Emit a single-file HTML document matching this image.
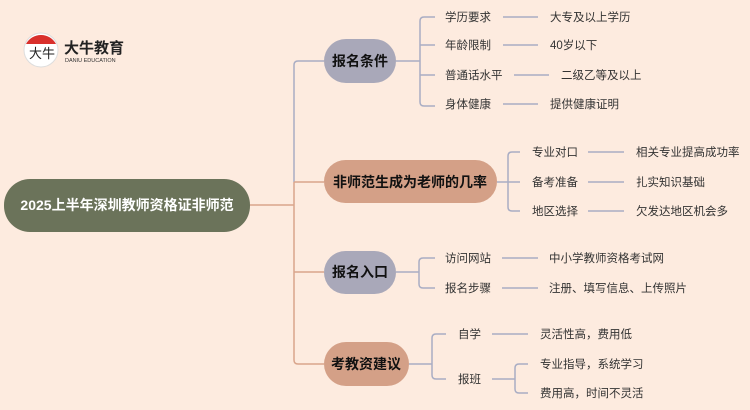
<!DOCTYPE html>
<html><head><meta charset="utf-8"><style>
html,body{margin:0;padding:0;background:#fdebdf;}
svg{display:block;}
text{font-family:"Liberation Sans","Noto Sans CJK SC",sans-serif;}
</style></head><body>
<svg width="750" height="410" viewBox="0 0 750 410" xmlns="http://www.w3.org/2000/svg">
<rect width="750" height="410" fill="#fdebdf"/>
<!-- logo -->
<circle cx="41" cy="50" r="17" fill="#fff" stroke="#ddd"/>
<path d="M26 44 A17 17 0 0 1 56 44 Z" fill="#d9302c"/>
<text x="29" y="58" font-size="13" fill="#222" font-family="Noto Serif CJK SC,serif">大牛</text>
<text x="64" y="53" font-size="15" font-weight="bold" fill="#222">大牛教育</text>
<text x="65" y="62" font-size="5.5" fill="#333">DANIU EDUCATION</text>
<!-- trunk -->
<g fill="none" stroke-width="1.5">
<path d="M250 205 H294" stroke="#d9a58c"/>
<path d="M324 61 H298 Q294 61 294 65 V182" stroke="#a9adc4"/>
<path d="M294 182 H324 M294 182 V360 Q294 364 298 364 H324 M294 272 H324" stroke="#d9a58c"/>
</g>
<g fill="none" stroke="#a9adc4" stroke-width="1.5">
<path d="M396 61 H420 M435 17 H424 Q420 17 420 21 V102 Q420 106 424 106 H435 M420 45 H435 M420 75 H435"/>
<path d="M503 17 H538 M503 45 H538 M514 75 H549 M503 104 H538"/>
<path d="M497 182 H508 M520 152 H512 Q508 152 508 156 V207 Q508 211 512 211 H520 M508 182 H520"/>
<path d="M588 152 H624 M588 182 H624 M588 211 H624"/>
<path d="M396 272 H419 M435 258 H423 Q419 258 419 262 V284 Q419 288 423 288 H435"/>
<path d="M502 258 H538 M502 288 H538"/>
<path d="M409 364 H432 M446 334 H436 Q432 334 432 338 V375 Q432 379 436 379 H446"/>
<path d="M492 334 H528 M492 379 H515 M528 364 H519 Q515 364 515 368 V389 Q515 393 519 393 H528"/>
</g>
<!-- root -->
<rect x="4" y="179" width="246" height="53" rx="26" fill="#6b735a"/>
<text x="127" y="210" font-size="14" font-weight="bold" fill="#fff" text-anchor="middle">2025上半年深圳教师资格证非师范</text>
<!-- branches -->
<rect x="324" y="39" width="72" height="44" rx="22" fill="#a9a8b9"/>
<text x="360" y="66" font-size="14" font-weight="bold" fill="#111" text-anchor="middle">报名条件</text>
<rect x="324" y="160" width="173" height="43" rx="21.5" fill="#d4a087"/>
<text x="410" y="187" font-size="14" font-weight="bold" fill="#111" text-anchor="middle">非师范生成为老师的几率</text>
<rect x="324" y="251" width="72" height="43" rx="21.5" fill="#a9a8b9"/>
<text x="360" y="277" font-size="14" font-weight="bold" fill="#111" text-anchor="middle">报名入口</text>
<rect x="324" y="342" width="85" height="44" rx="22" fill="#d4a087"/>
<text x="366" y="369" font-size="14" font-weight="bold" fill="#111" text-anchor="middle">考教资建议</text>
<!-- leaves -->
<g font-size="11.5" fill="#333">
<text x="445" y="21">学历要求</text><text x="550" y="21">大专及以上学历</text>
<text x="445" y="49">年龄限制</text><text x="550" y="49">40岁以下</text>
<text x="445" y="79">普通话水平</text><text x="561" y="79">二级乙等及以上</text>
<text x="445" y="108">身体健康</text><text x="550" y="108">提供健康证明</text>
<text x="532" y="156">专业对口</text><text x="636" y="156">相关专业提高成功率</text>
<text x="532" y="186">备考准备</text><text x="636" y="186">扎实知识基础</text>
<text x="532" y="215">地区选择</text><text x="636" y="215">欠发达地区机会多</text>
<text x="445" y="262">访问网站</text><text x="549" y="262">中小学教师资格考试网</text>
<text x="445" y="292">报名步骤</text><text x="549" y="292">注册、填写信息、上传照片</text>
<text x="458" y="338">自学</text><text x="540" y="338">灵活性高，费用低</text>
<text x="458" y="383">报班</text>
<text x="540" y="368">专业指导，系统学习</text>
<text x="540" y="397">费用高，时间不灵活</text>
</g>
</svg>
</body></html>
